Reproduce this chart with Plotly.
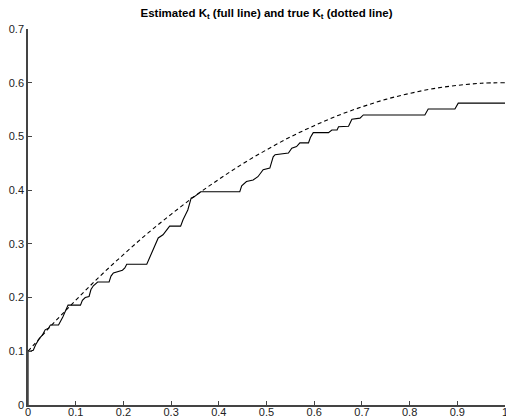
import plotly.graph_objects as go

# True K_t (smooth curve), sampled every 0.05
true_t = [0.00, 0.05, 0.10, 0.15, 0.20, 0.25, 0.30, 0.35, 0.40, 0.45,
          0.50, 0.55, 0.60, 0.65, 0.70, 0.75, 0.80, 0.85, 0.90, 0.95, 1.00]
true_k = [0.100, 0.149, 0.195, 0.239, 0.280, 0.319, 0.355, 0.389, 0.420, 0.449,
          0.475, 0.499, 0.520, 0.539, 0.555, 0.569, 0.580, 0.589, 0.595, 0.599, 0.600]

# Estimated K_t (step-like path)
est_t = [0.000, 0.000, 0.004, 0.011, 0.016, 0.024, 0.030, 0.036, 0.043, 0.047,
         0.064, 0.068, 0.073, 0.084, 0.110, 0.114, 0.120, 0.128, 0.132, 0.137,
         0.146, 0.170, 0.174, 0.179, 0.198, 0.203, 0.207, 0.249, 0.253, 0.258,
         0.266, 0.273, 0.283, 0.297, 0.320, 0.325, 0.335, 0.342, 0.349, 0.356,
         0.362, 0.444, 0.448, 0.458, 0.472, 0.482, 0.493, 0.507, 0.514, 0.518,
         0.546, 0.553, 0.563, 0.570, 0.588, 0.592, 0.598, 0.630, 0.637, 0.648,
         0.651, 0.672, 0.679, 0.696, 0.703, 0.832, 0.839, 0.895, 0.902, 1.000]
est_k = [0.000, 0.100, 0.100, 0.102, 0.112, 0.124, 0.130, 0.140, 0.143, 0.149,
         0.149, 0.155, 0.164, 0.186, 0.186, 0.195, 0.200, 0.202, 0.215, 0.222,
         0.229, 0.229, 0.240, 0.246, 0.251, 0.255, 0.262, 0.262, 0.270, 0.280,
         0.295, 0.311, 0.317, 0.333, 0.333, 0.345, 0.363, 0.385, 0.388, 0.393,
         0.397, 0.397, 0.408, 0.416, 0.419, 0.425, 0.438, 0.441, 0.462, 0.466,
         0.469, 0.478, 0.481, 0.488, 0.488, 0.498, 0.507, 0.507, 0.512, 0.512,
         0.518, 0.519, 0.532, 0.534, 0.540, 0.540, 0.551, 0.551, 0.562, 0.562]
assert len(est_t) == len(est_k)

x_ticks = [0, 0.1, 0.2, 0.3, 0.4, 0.5, 0.6, 0.7, 0.8, 0.9, 1]
x_labels = ["0", "0.1", "0.2", "0.3", "0.4", "0.5", "0.6", "0.7", "0.8", "0.9", "1"]
y_ticks = [0, 0.1, 0.2, 0.3, 0.4, 0.5, 0.6, 0.7]
y_labels = ["0", "0.1", "0.2", "0.3", "0.4", "0.5", "0.6", "0.7"]

fig = go.Figure()
fig.add_trace(go.Scatter(
    x=true_t, y=true_k, mode="lines",
    line=dict(color="black", width=1.1, dash="4px,3px", shape="spline"),
    hoverinfo="skip",
))
fig.add_trace(go.Scatter(
    x=est_t, y=est_k, mode="lines",
    line=dict(color="black", width=1.1),
    hoverinfo="skip",
))

tick_font = dict(family="Liberation Sans, Arial, sans-serif", size=11, color="#222")
axis_common = dict(
    showgrid=False, zeroline=False, showline=True, linecolor="#444",
    linewidth=1.5, ticks="inside", ticklen=4, tickcolor="#444",
    tickfont=tick_font, mirror=False, ticklabeloverflow="allow", automargin=False,
)

fig.update_layout(
    width=506, height=417,
    margin=dict(l=28, r=1, t=29, b=12),
    paper_bgcolor="white", plot_bgcolor="white",
    showlegend=False,
    title=dict(
        text="<b>Estimated K<sub>t</sub> (full line) and true K<sub>t</sub> (dotted line)</b>",
        x=(28 + 238.5) / 506, xanchor="center", y=1 - 13 / 417, yanchor="middle",
        font=dict(family="Liberation Sans, Arial, sans-serif", size=11.5, color="black"),
    ),
    xaxis=dict(range=[0, 1], tickvals=x_ticks, ticktext=x_labels,
               ticklabelstandoff=-4, **axis_common),
    yaxis=dict(range=[0, 0.7], tickvals=y_ticks, ticktext=y_labels, **axis_common),
)

fig.write_html("out.html")
